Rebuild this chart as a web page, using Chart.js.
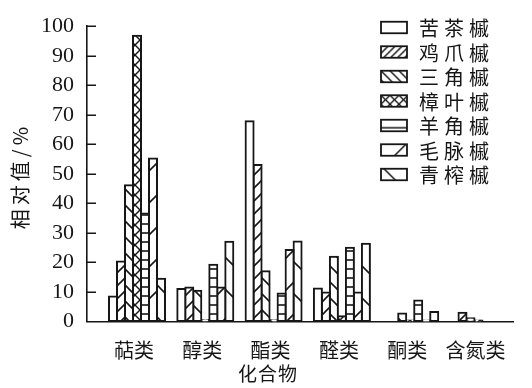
<!DOCTYPE html>
<html>
<head>
<meta charset="utf-8">
<style>
  html, body { margin: 0; padding: 0; background: #fff; }
  #c { display: block; }
</style>
<script src="https://cdn.jsdelivr.net/npm/chart.js@4.4.1/dist/chart.umd.min.js"></script>
</head>
<body>
<canvas id="c" width="532" height="388"></canvas>
<script>
// Compound classes on the x axis
const categories = ['萜类', '醇类', '酯类', '醛类', '酮类', '含氮类'];

// Maple species (one bar series each)
const species = ['苦茶槭', '鸡爪槭', '三角槭', '樟叶槭', '羊角槭', '毛脉槭', '青榨槭'];

// Relative content (%) per compound class, in category order
const kuchaqi   = [8.5, 11.0, 67.8, 11.2, 0, 0];
const jizhuaqi  = [20.3, 11.5, 53.0, 9.8, 0, 3.0];
const sanjiaoqi = [46.1, 10.4, 17.0, 21.9, 2.7, 1.1];
const zhangyeqi = [96.8, 0.5, 0.4, 1.8, 0.3, 0.3];
const yangjiaoqi = [36.6, 19.2, 9.5, 25.0, 7.1, 0];
const maomaiqi  = [55.2, 11.5, 24.2, 9.8, 0.3, 0];
const qingzhaqi = [14.5, 27.0, 27.1, 26.3, 3.2, 0];

// Y axis tick values
const yTicks = [0, 10, 20, 30, 40, 50, 60, 70, 80, 90, 100];

const seriesValues = [kuchaqi, jizhuaqi, sanjiaoqi, zhangyeqi, yangjiaoqi, maomaiqi, qingzhaqi];

const INK = '#161616';
const CJK = '"Noto Sans CJK SC", "Noto Sans", sans-serif';
const SERIF = '"Liberation Serif", "DejaVu Serif", serif';

const canvas = document.getElementById('c');
const ctx = canvas.getContext('2d');

// Build a repeating black-on-white hatch tile
function hatch(kind, step, lw) {
  if (kind === 'none') return '#ffffff';
  const t = document.createElement('canvas');
  t.width = step; t.height = step;
  const g = t.getContext('2d');
  g.fillStyle = '#fff';
  g.fillRect(0, 0, step, step);
  g.strokeStyle = INK;
  g.lineWidth = lw;
  const seg = (x1, y1, x2, y2) => { g.beginPath(); g.moveTo(x1, y1); g.lineTo(x2, y2); g.stroke(); };
  if (kind === 'fwd' || kind === 'cross') {
    seg(-2, step + 2, step + 2, -2);
    seg(-2, 2, 2, -2);
    seg(step - 2, step + 2, step + 2, step - 2);
  }
  if (kind === 'back' || kind === 'cross') {
    seg(-2, -2, step + 2, step + 2);
    seg(step - 2, -2, step + 2, 2);
    seg(-2, step - 2, 2, step + 2);
  }
  if (kind === 'horiz') {
    seg(-1, step - 1, step + 1, step - 1);
  }
  return ctx.createPattern(t, 'repeat');
}

// Fill styles for the bars
const barFills = [
  hatch('none', 8, 1.5),
  hatch('fwd', 13, 1.6),
  hatch('back', 16, 1.6),
  hatch('cross', 10, 1.4),
  hatch('horiz', 9, 1.6),
  hatch('fwd', 32, 1.6),
  hatch('back', 32, 1.6)
];

// Fill styles for the legend swatches, with the pattern offset inside each box
const legendFills = [
  { p: hatch('none', 8, 1.5), dx: 0 },
  { p: hatch('fwd', 7, 1.4), dx: 0 },
  { p: hatch('back', 9, 1.4), dx: 0 },
  { p: hatch('cross', 9, 1.3), dx: 0 },
  { p: hatch('horiz', 9, 1.5), dx: 0 },
  { p: hatch('fwd', 32, 1.5), dx: -7 },
  { p: hatch('back', 32, 1.5), dx: 3 }
];

// Hand-drawn decorations: inward y ticks, axis titles, legend
const decor = {
  id: 'decor',
  afterDraw(chart) {
    const c = chart.ctx;
    const y = chart.scales.y;
    const area = chart.chartArea;

    // inward tick marks on the y axis
    c.save();
    c.strokeStyle = INK;
    c.lineWidth = 1.5;
    y.ticks.forEach(t => {
      if (t.value === 0) return;
      const py = Math.round(y.getPixelForValue(t.value)) + 0.25;
      c.beginPath();
      c.moveTo(area.left, py);
      c.lineTo(area.left + 9, py);
      c.stroke();
    });
    c.restore();

    // y axis title (rotated)
    c.save();
    c.fillStyle = INK;
    c.font = '20px ' + CJK;
    c.letterSpacing = '4px';
    c.textAlign = 'center';
    c.textBaseline = 'middle';
    c.translate(20.5, 178);
    c.rotate(-Math.PI / 2);
    c.fillText('相对值/%', 2, 0);
    c.restore();

    // x axis title
    c.save();
    c.fillStyle = INK;
    c.font = '19px ' + CJK;
    c.letterSpacing = '1px';
    c.textAlign = 'center';
    c.textBaseline = 'middle';
    c.fillText('化合物', 268, 374);
    c.restore();

    // legend
    const bx = 381, bw = 26, bh = 11.5;
    c.save();
    species.forEach((name, k) => {
      const cy = 27.5 + k * 24.5;
      const by = cy - bh / 2;
      const lf = legendFills[k];
      if (typeof lf.p !== 'string') {
        lf.p.setTransform(new DOMMatrix().translate(bx + lf.dx, by));
      }
      c.fillStyle = lf.p;
      c.fillRect(bx, by, bw, bh);
      c.strokeStyle = INK;
      c.lineWidth = 1.8;
      c.strokeRect(bx, by, bw, bh);
      c.fillStyle = INK;
      c.font = '20px ' + CJK;
      c.letterSpacing = '5px';
      c.textAlign = 'left';
      c.textBaseline = 'middle';
      c.fillText(name, 419, cy + 1);
    });
    c.restore();
  }
};

new Chart(ctx, {
  type: 'bar',
  data: {
    datasets: species.map((name, k) => ({
      label: name,
      data: seriesValues[k].map((v, i) => ({ x: i, y: v })),
      backgroundColor: barFills[k],
      borderColor: INK,
      borderWidth: 2,
      borderSkipped: false,
      inflateAmount: 1,
      barThickness: 8
    }))
  },
  options: {
    responsive: false,
    animation: false,
    devicePixelRatio: 1,
    layout: { padding: { top: 18.5, right: 19, bottom: 0, left: 0 } },
    plugins: {
      legend: { display: false },
      tooltip: { enabled: false },
      title: { display: false }
    },
    scales: {
      x: {
        type: 'linear',
        min: -0.732,
        max: 5.505,
        offset: false,
        grid: { display: true, offset: false, drawOnChartArea: false, drawTicks: false },
        border: { display: true, color: INK, width: 1.6 },
        afterBuildTicks: s => { s.ticks = categories.map((_, i) => ({ value: i })); },
        afterFit: s => { s.height = 66.5; },
        ticks: {
          autoSkip: false,
          maxRotation: 0,
          padding: 17,
          labelOffset: -3,
          color: INK,
          font: { family: CJK, size: 20 },
          callback: v => categories[v] ?? ''
        }
      },
      y: {
        min: 0,
        max: 100,
        afterBuildTicks: s => { s.ticks = yTicks.map(v => ({ value: v })); },
        afterFit: s => { s.width = 87; },
        grid: { display: true, drawOnChartArea: false, drawTicks: false },
        border: { display: true, color: INK, width: 1.6 },
        ticks: {
          autoSkip: false,
          padding: 13,
          color: INK,
          font: { family: SERIF, size: 22 }
        }
      }
    }
  },
  plugins: [decor]
});
</script>
</body>
</html>
